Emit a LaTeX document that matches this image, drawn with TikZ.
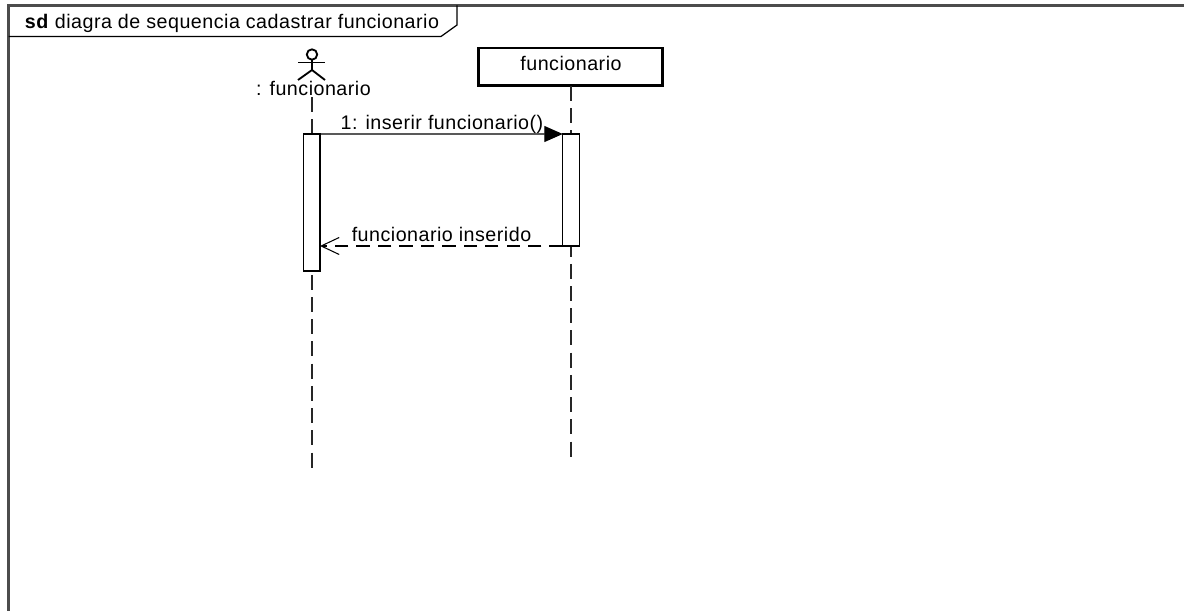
\documentclass[tikz,border=0pt]{standalone}
\usepackage{fontspec}
\setmainfont{Liberation Sans}[LetterSpace=2.5]
\usetikzlibrary{arrows.meta}

\tikzset{
    txt/.style={inner sep=0pt, outer sep=0pt, font=\fontsize{11.2}{13}\selectfont},
    lifeline/.style={line width=0.75pt, black!85, dash pattern=on 8.5pt off 4.15pt},
    activation/.style={draw, fill=white, line width=0.75pt, inner sep=0pt, outer sep=0pt, minimum width=0.33cm},
    objbox/.style={draw, fill=white, line width=1.7pt, inner sep=0pt, outer sep=0pt, minimum width=3.7cm, minimum height=0.76cm},
    callmsg/.style={line width=0.75pt, -{Triangle[length=0.37cm,width=0.32cm]}},
    returnmsg/.style={line width=0.6pt, dash pattern=on 7.6pt off 4.6pt, -{Straight Barb[length=0.36cm,width=0.34cm]}},
    stick/.style={line width=1.05pt},
}

\begin{document}
\begin{tikzpicture}[x=0.02cm,y=-0.02cm]
        \useasboundingbox (0,0) rectangle (1184,611);

        % frame and its tab
        \coordinate (FR) at (1184,5.5);
        \coordinate (FL) at (8.5,5.5);
        \coordinate (FB) at (8.5,611);
        \coordinate (TA) at (8.5,36.5);
        \coordinate (TB) at (441,36.5);
        \coordinate (TC) at (457,25);
        \coordinate (TD) at (457,5.5);
        \draw[line width=1.3pt, black!70] (FR) -- (FL) -- (FB);
        \draw[line width=0.7pt] (TA) -- (TB) -- (TC) -- (TD);
        \node[txt, anchor=west] (title) at (25,23) {\textbf{sd} diagra de sequencia cadastrar funcionario};

        % actor
        \coordinate (head) at (312,54.5);
        \coordinate (hip) at (312,70);
        \draw[stick] (head) circle (5.2);
        \draw[stick] (312,59.7) -- (hip);
        \draw[stick] (298,62.5) -- (325,62.5);
        \draw[stick] (298,80) -- (hip) -- (325,80);
        \node[txt] (actor) at (313.5,88.5) {: funcionario};

        % object
        \node[objbox] (obj) at (570.5,67) {};
        \node[txt] (objname) at (571,63) {funcionario};

        % lifelines
        \coordinate (endA) at (312,470);
        \coordinate (endB) at (571,457);
        \coordinate (startA) at (312,97);
        \draw[lifeline] (startA) -- (endA);
        \draw[lifeline] (obj.south -| endB) -- (endB);

        % activations
        \node[activation, minimum height=2.74cm] (actA) at (311.7,202.5) {};
        \node[activation, minimum height=2.24cm] (actB) at (571,190) {};

        % messages
        \draw[callmsg] (actA.north east) -- (actB.north west);
        \draw[returnmsg] (actB.south west) -- (actA.east |- actB.south west);
        \node[txt] (call) at (442,124) {1: inserir funcionario()};
        \node[txt] (reply) at (441.5,234.5) {funcionario inserido};
\end{tikzpicture}
\end{document}
